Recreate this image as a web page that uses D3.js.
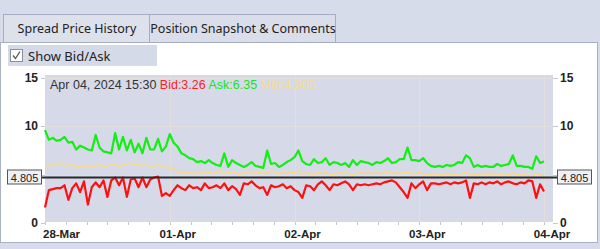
<!DOCTYPE html>
<html>
<head>
<meta charset="utf-8">
<script src="https://cdn.jsdelivr.net/npm/d3@7"></script>
<style>
  body {margin: 0; background: #d7dcea; overflow: hidden;}
  svg {display: block; font-family: Arial, 'Liberation Sans', sans-serif;}
  .ui {font-family: 'Noto Sans', 'Open Sans', sans-serif;}
</style>
</head>
<body>
<div id="chart"></div>
<script>
var tabs = ['Spread Price History', 'Position Snapshot & Comments']
var dayLabels = ['28-Mar', '01-Apr', '02-Apr', '03-Apr', '04-Apr']
var yTicks = [0, 5, 10, 15]
var samplesPerDay = 32

var ask = [
  9.6, 8.6, 8.8, 8.5, 8.6, 8.9, 8.3, 8.4, 7.6, 8.0, 7.8, 7.6, 7.5, 9.1, 7.8, 7.4,
  7.3, 7.2, 9.3, 7.6, 8.9, 7.5, 8.6, 7.3, 8.2, 7.2, 8.8, 7.6, 7.6, 8.7, 7.4, 7.9,
  9.2, 8.3, 7.9, 7.2, 7.0, 6.7, 6.6, 6.3, 6.4, 6.2, 6.5, 6.2, 6.0, 5.9, 7.2, 5.8,
  6.5, 6.2, 6.0, 5.8, 6.0, 6.3, 5.9, 5.8, 5.7, 7.5, 6.1, 6.2, 5.8, 6.0, 6.3, 6.5,
  6.8, 7.5, 6.4, 6.1, 6.0, 6.6, 6.2, 6.3, 6.7, 6.0, 6.3, 6.2, 6.0, 6.2, 5.8, 6.5,
  6.0, 6.4, 6.3, 6.2, 6.0, 6.3, 6.2, 6.4, 6.7, 6.2, 6.3, 6.6, 6.6, 7.8, 6.5, 6.5,
  6.4, 6.7, 6.2, 5.9, 5.8, 5.9, 5.8, 6.0, 5.9, 6.0, 6.3, 6.2, 7.0, 6.7, 5.8, 6.0,
  5.8, 5.9, 5.8, 5.8, 6.1, 5.9, 6.0, 6.1, 7.0, 5.9, 5.9, 5.8, 5.8, 5.6, 6.9, 6.2,
  6.35
]

var mid = [
  5.7, 6.0, 5.9, 6.1, 6.2, 5.9, 6.0, 6.1, 5.7, 5.9, 5.8, 6.0, 5.8, 5.9, 6.1, 5.8,
  5.9, 6.0, 6.1, 5.8, 6.0, 6.1, 6.2, 6.0, 6.1, 5.9, 6.0, 5.9, 5.8, 6.0, 5.9, 5.7,
  5.8, 5.6, 5.3, 5.2, 5.3, 5.2, 5.1, 5.3, 5.2, 5.2, 5.3, 5.1, 5.2, 5.4, 5.1, 5.2,
  5.3, 5.2, 5.0, 5.2, 5.3, 5.1, 5.2, 5.3, 5.1, 5.2, 5.4, 5.2, 5.1, 5.2, 5.1, 5.3,
  5.2, 5.4, 5.1, 5.2, 5.1, 5.0, 5.2, 5.1, 5.2, 5.1, 5.0, 5.2, 5.1, 5.2, 5.1, 5.0,
  5.1, 5.2, 5.1, 5.2, 5.1, 5.2, 5.1, 5.2, 5.3, 5.1, 5.2, 5.1, 5.2, 5.3, 5.1, 5.1,
  5.2, 5.1, 5.0, 5.0, 5.1, 5.0, 5.0, 5.1, 5.0, 5.0, 5.1, 5.1, 5.2, 5.0, 5.0, 5.0,
  5.1, 5.0, 5.0, 5.0, 5.1, 5.0, 5.1, 5.0, 5.2, 5.0, 5.0, 5.0, 4.9, 4.9, 5.1, 5.0,
  4.805
]

var bid = [
  1.6, 3.4, 3.5, 3.6, 3.6, 3.9, 2.4, 3.6, 4.1, 3.2, 4.3, 1.9, 3.7, 4.2, 3.7, 4.4,
  2.7, 4.4, 4.7, 3.9, 4.7, 2.7, 4.5, 4.6, 3.7, 4.7, 3.7, 4.5, 4.7, 4.8, 2.8, 3.1,
  2.8, 3.4, 3.9, 3.6, 3.4, 3.9, 3.6, 3.7, 3.4, 4.1, 3.6, 3.7, 3.9, 3.6, 4.1, 3.4,
  3.8, 3.5, 2.9, 4.1, 4.0, 4.3, 3.9, 3.6, 3.7, 2.9, 3.9, 3.7, 3.8, 4.0, 3.6, 3.8,
  3.4, 3.2, 2.6, 3.9, 3.8, 3.4, 4.0, 4.3, 3.9, 3.4, 4.0, 3.9, 4.1, 4.3, 4.0, 3.4,
  4.0, 3.9, 4.0, 3.9, 4.0, 4.1, 4.0, 4.2, 4.3, 4.4, 4.2, 3.7, 3.2, 2.6, 4.1, 3.6,
  4.0, 4.3, 3.4, 4.1, 4.1, 4.0, 4.1, 4.2, 4.0, 4.2, 4.1, 4.2, 4.4, 2.6, 4.1, 4.0,
  4.2, 4.0, 4.2, 4.1, 4.3, 4.0, 4.2, 4.3, 4.1, 4.0, 4.2, 4.1, 4.4, 4.3, 2.6, 4.0,
  3.26
]

var lastStamp = 'Apr 04, 2024 15:30'
var lastBid = 3.26
var lastAsk = 6.35
var lastMid = 4.805

var W = 600, H = 249
var plot = {left: 45, right: 553, top: 75, bottom: 222}

var svg = d3.select('#chart').append('svg')
  .attr('width', W).attr('height', H)

svg.append('rect').attr('width', W).attr('height', H).attr('fill', '#d7dcea')

// panel + tabs
svg.append('rect')
  .attr('x', 0.5).attr('y', 42.5).attr('width', 597).attr('height', 200)
  .attr('fill', '#fff').attr('stroke', '#a9b2c6')

var tabX = [3, 149, 335]
var tabSel = svg.selectAll('g.tab').data(tabs).join('g').attr('class', 'tab')
tabSel.append('rect')
  .attr('x', (d, i) => tabX[i] + 0.5).attr('y', 14.5)
  .attr('width', (d, i) => tabX[i + 1] - tabX[i]).attr('height', 28)
  .attr('fill', (d, i) => i == 0 ? '#dde1ec' : '#d9deea')
  .attr('stroke', '#a4adc1')
tabSel.append('text')
  .attr('class', 'ui')
  .attr('x', (d, i) => (tabX[i] + tabX[i + 1]) / 2 + 1).attr('y', 33)
  .attr('text-anchor', 'middle')
  .attr('font-size', 12.5).attr('fill', '#222')
  .text(d => d)

// show bid/ask toggle
svg.append('rect').attr('x', 8).attr('y', 45).attr('width', 149).attr('height', 21).attr('fill', '#d5dae8')
svg.append('rect').attr('x', 10.5).attr('y', 49.5).attr('width', 12).attr('height', 12)
  .attr('fill', '#fff').attr('stroke', '#8a8f9a')
svg.append('path').attr('d', 'M13 55.5 L15.5 58.5 L20 51.5')
  .attr('fill', 'none').attr('stroke', '#555').attr('stroke-width', 1.3)
svg.append('text').attr('class', 'ui').attr('x', 28).attr('y', 61)
  .attr('font-size', 13).attr('fill', '#222').text('Show Bid/Ask')

// scales
var x = d3.scaleLinear().domain([0, dayLabels.length - 1]).range([45, 544])
var y = d3.scaleLinear().domain([0, 15.3]).range([223, 75])

svg.append('rect')
  .attr('x', plot.left).attr('y', plot.top)
  .attr('width', plot.right - plot.left).attr('height', plot.bottom - plot.top)
  .attr('fill', '#d6dae8')

// grid
svg.append('g').selectAll('line').data(yTicks.filter(d => d > 0)).join('line')
  .attr('x1', plot.left).attr('x2', plot.right)
  .attr('y1', d => Math.round(y(d)) + .5).attr('y2', d => Math.round(y(d)) + .5)
  .attr('stroke', '#e2dfdc')
svg.append('g').selectAll('line').data(d3.range(1, dayLabels.length)).join('line')
  .attr('y1', plot.top).attr('y2', plot.bottom)
  .attr('x1', d => Math.round(x(d)) + .5).attr('x2', d => Math.round(x(d)) + .5)
  .attr('stroke', '#e2dfdc')

// x axis minor ticks (4h)
var minor = d3.range(0, (dayLabels.length - 1) * 6 + 1).map(d => d / 6)
svg.append('g').selectAll('line').data(minor).join('line')
  .attr('x1', d => Math.round(x(d)) + .5).attr('x2', d => Math.round(x(d)) + .5)
  .attr('y1', plot.bottom).attr('y2', plot.bottom + 3)
  .attr('stroke', '#c4c8d2')

svg.append('g').selectAll('text').data(dayLabels).join('text')
  .attr('x', (d, i) => i == 0 ? x(i) - 2 : x(i) + 8)
  .attr('text-anchor', (d, i) => i == 0 ? 'start' : 'middle')
  .attr('y', 238)
  .attr('font-size', 11.5).attr('font-weight', 'bold').attr('fill', '#222')
  .text(d => d)

// y axes both sides, 5 hidden under the last-price tag
var shown = yTicks.filter(d => d != 5)
svg.append('g').selectAll('line').data(yTicks).join('line')
  .attr('x1', plot.left - 4).attr('x2', plot.left)
  .attr('y1', d => Math.round(y(d)) + .5).attr('y2', d => Math.round(y(d)) + .5)
  .attr('stroke', '#c4c8d2')
svg.append('g').selectAll('line').data(yTicks).join('line')
  .attr('x1', plot.right).attr('x2', plot.right + 5)
  .attr('y1', d => Math.round(y(d)) + .5).attr('y2', d => Math.round(y(d)) + .5)
  .attr('stroke', '#c4c8d2')
svg.append('g').selectAll('text').data(shown).join('text')
  .attr('x', 38).attr('y', d => y(d) + 4)
  .attr('text-anchor', 'end')
  .attr('font-size', 12).attr('font-weight', 'bold').attr('fill', '#222')
  .text(d => d)
svg.append('g').selectAll('text').data(shown).join('text')
  .attr('x', 560).attr('y', d => y(d) + 4)
  .attr('font-size', 12).attr('font-weight', 'bold').attr('fill', '#222')
  .text(d => d)

// series
var line = d3.line().x((d, i) => x(i / samplesPerDay)).y(d => y(d))
var series = [
  {values: mid, color: '#f6d98e', width: 1.7},
  {values: ask, color: '#13ee13', width: 2.2},
  {values: bid, color: '#ff1010', width: 2.2},
]
svg.append('g').selectAll('path').data(series).join('path')
  .attr('d', d => line(d.values))
  .attr('fill', 'none')
  .attr('stroke', d => d.color)
  .attr('stroke-width', d => d.width)
  .attr('stroke-linejoin', 'round')

// last mid line + tags
var ly = Math.round(y(lastMid)) + .5
svg.append('line')
  .attr('x1', 42).attr('x2', 557).attr('y1', ly).attr('y2', ly)
  .attr('stroke', '#2a2a2a').attr('stroke-width', 1.8)

var tagX = [7, 557]
tagX.forEach(tx => {
  svg.append('rect')
    .attr('x', tx + .5).attr('y', ly - 7.5).attr('width', 34).attr('height', 14)
    .attr('fill', '#eef0f5').attr('stroke', '#555')
  svg.append('text')
    .attr('x', tx + 17.5).attr('y', ly + 4)
    .attr('text-anchor', 'middle')
    .attr('font-size', 11).attr('fill', '#222')
    .text(lastMid)
})

// header readout
var hdr = svg.append('text').attr('x', 50).attr('y', 89).attr('font-size', 12.5)
hdr.append('tspan').attr('fill', '#333').text(lastStamp + ' ')
hdr.append('tspan').attr('fill', '#ff2020').text('Bid:' + lastBid + ' ')
hdr.append('tspan').attr('fill', '#22e022').text('Ask:' + lastAsk + ' ')
hdr.append('tspan').attr('fill', '#f3dc9a').text('Mid:' + lastMid)
</script>
</body>
</html>
